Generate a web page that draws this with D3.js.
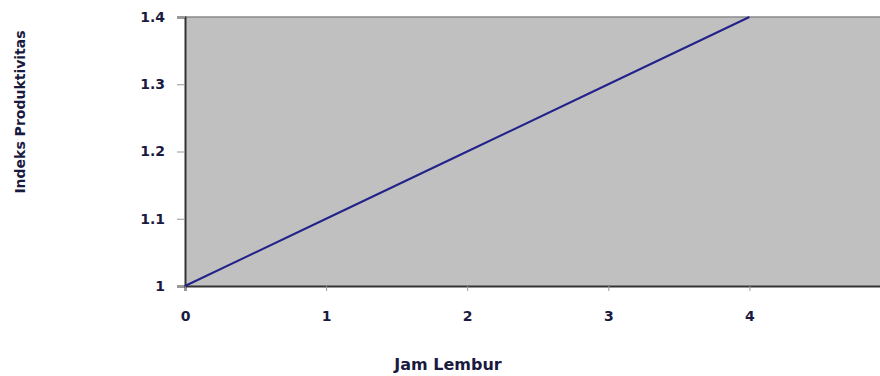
<!DOCTYPE html>
<html><head><meta charset="utf-8">
<script src="https://cdn.jsdelivr.net/npm/d3@7"></script>
<style>body{margin:0;background:#fff}svg{display:block}</style>
</head><body>
<svg id="c" width="880" height="376"></svg>
<script>
const jamLembur = [0, 1, 2, 3, 4];
const indeks = [1.0, 1.1, 1.2, 1.3, 1.4];
const xTicks = [0, 1, 2, 3, 4];
const yTicks = [1, 1.1, 1.2, 1.3, 1.4];
const yTickLabels = ["1", "1.1", "1.2", "1.3", "1.4"];

const svg = d3.select("#c");
const L = 185, T = 17, B = 286;
const x = d3.scaleLinear().domain([0, 5]).range([L, L + 5 * 141.1]);
const y = d3.scaleLinear().domain([1, 1.4]).range([B, T]);
const font = "'DejaVu Sans', Verdana, sans-serif";

svg.append("rect").attr("x", L).attr("y", T).attr("width", 880 - L).attr("height", B - T).attr("fill", "#c0c0c0");
svg.append("line").attr("x1", L).attr("x2", 880).attr("y1", T).attr("y2", T).attr("stroke", "#8a8a8a").attr("stroke-width", 1.5);

const ya = svg.append("g").attr("transform", `translate(${L},0)`)
  .call(d3.axisLeft(y).tickValues(yTicks).tickSize(8).tickPadding(12).tickFormat((d, i) => yTickLabels[i]));
ya.select(".domain").attr("stroke", "#333").attr("stroke-width", 2);
ya.selectAll(".tick line").attr("stroke", "#999");
ya.selectAll("text").attr("font-family", font).attr("font-weight", "bold").attr("font-size", 14).attr("fill", "#1a1a40");

const xa = svg.append("g").attr("transform", `translate(0,${B})`)
  .call(d3.axisBottom(x).tickValues(xTicks).tickSize(5).tickPadding(20).tickFormat(d3.format("d")));
xa.select(".domain").attr("stroke", "#333").attr("stroke-width", 2);
xa.selectAll(".tick line").attr("stroke", "#999");
xa.selectAll("text").attr("font-family", font).attr("font-weight", "bold").attr("font-size", 14).attr("fill", "#1a1a40");

svg.append("path").datum(jamLembur.map((d, i) => [d, indeks[i]]))
  .attr("fill", "none").attr("stroke", "#22228a").attr("stroke-width", 2)
  .attr("d", d3.line().x(d => x(d[0])).y(d => y(d[1])));

svg.append("text").attr("x", 448).attr("y", 370).attr("text-anchor", "middle")
  .attr("font-family", font).attr("font-weight", "bold").attr("font-size", 16).attr("fill", "#1a1a40").text("Jam Lembur");
svg.append("text").attr("transform", "translate(25,112) rotate(-90)").attr("text-anchor", "middle")
  .attr("font-family", font).attr("font-weight", "bold").attr("font-size", 14).attr("fill", "#1a1a40").text("Indeks Produktivitas");
</script>
</body></html>
